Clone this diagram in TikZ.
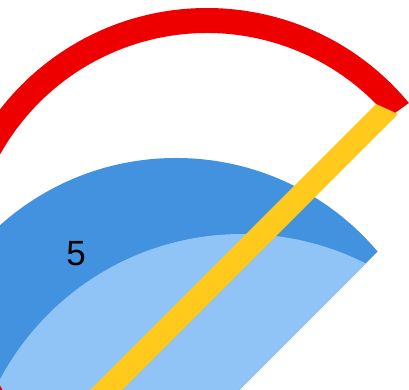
\documentclass[tikz,border=0pt]{standalone}
\usepackage{fontspec}
\setmainfont{Liberation Sans}
\definecolor{ringred}{HTML}{EE0000}
\definecolor{needleyellow}{HTML}{FFCA1C}
\definecolor{darkblue}{HTML}{4292E0}
\definecolor{lightblue}{HTML}{91C4F6}
\begin{document}
\begin{tikzpicture}[x=1pt,y=1pt]
\useasboundingbox (0,0) rectangle (409,390);
\clip (0,0) rectangle (409,390);
% blue sectors
\begin{scope}
\clip (-50,-289) -- (739,500) -- (-50,500) -- cycle;
\fill[darkblue] (176,-32) circle [radius=264];
\fill[lightblue] (242,-118) circle [radius=274];
\end{scope}
% red ring
\fill[ringred] ([shift={(207,120)}]39.6:262) arc[start angle=39.6, end angle=230, radius=262]
  -- ([shift={(207,120)}]230:237) arc[start angle=230, end angle=40, radius=237] -- cycle;
% needle
\fill[needleyellow] (376,286) -- (398,276) -- (102,-20) -- (70,-20) -- cycle;
% label
\node[inner sep=0, font=\fontsize{35}{40}\selectfont] (lbl) at (76,136.5) {5};
\end{tikzpicture}
\end{document}
